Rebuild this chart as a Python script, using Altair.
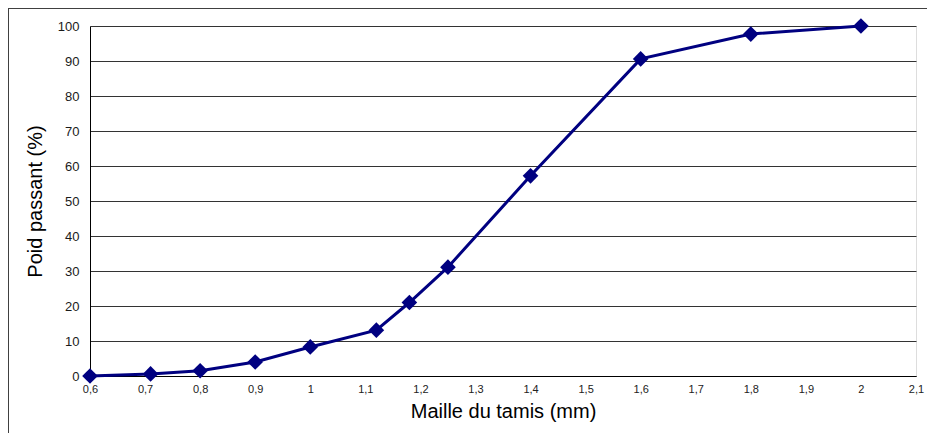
import altair as alt
import pandas as pd

maille = [0.6, 0.71, 0.8, 0.9, 1.0, 1.12, 1.18, 1.25, 1.4, 1.6, 1.8, 2.0]
passant = [0, 0.6, 1.5, 4.0, 8.3, 13.1, 21.0, 31.1, 57.2, 90.6, 97.7, 100]
x_ticks = [0.6, 0.7, 0.8, 0.9, 1.0, 1.1, 1.2, 1.3, 1.4, 1.5, 1.6, 1.7, 1.8, 1.9, 2.0, 2.1]
y_ticks = [0, 10, 20, 30, 40, 50, 60, 70, 80, 90, 100]

df = pd.DataFrame({"maille": maille, "passant": passant})
FONT = "Liberation Sans"

x_enc = alt.X("maille:Q",
              scale=alt.Scale(domain=[0.6, 2.1], nice=False, zero=False),
              axis=alt.Axis(title="Maille du tamis (mm)", values=x_ticks, tickCount=30,
                            labelExpr="replace(format(datum.value, '~g'), '.', ',')",
                            grid=False, ticks=False, domainColor="#000000",
                            labelOverlap=False, labelFlush=False,
                            labelFontSize=11, labelPadding=7, labelColor="#222222",
                            titleFontSize=20, titlePadding=7, labelFont=FONT, titleFont=FONT,
                            titleFontWeight="normal", titleColor="#000000"))
y_enc = alt.Y("passant:Q",
              scale=alt.Scale(domain=[0, 100], nice=False),
              axis=alt.Axis(title="Poid passant (%)", values=y_ticks, tickCount=20,
                            grid=True, gridColor="#333333", gridWidth=1, ticks=False,
                            domainColor="#000000",
                            labelOverlap=False, labelFlush=False,
                            labelFontSize=13, labelPadding=11, labelColor="#1a1a1a",
                            titleFontSize=20, titlePadding=12, labelFont=FONT, titleFont=FONT,
                            titleFontWeight="normal", titleColor="#000000"))

base = alt.Chart(df).encode(x=x_enc, y=y_enc)
line = base.mark_line(color="#000080", strokeWidth=3)
pts = base.mark_point(shape="diamond", filled=True, color="#000080", size=245, opacity=1)

frame_df = pd.DataFrame({"k": [1]})
left_border = alt.Chart(frame_df).mark_rule(color="#404040", strokeWidth=1).encode(
    x=alt.value(-81.5), y=alt.value(-18), y2=alt.value(440))
top_border = alt.Chart(frame_df).mark_rule(color="#404040", strokeWidth=1).encode(
    x=alt.value(-82), x2=alt.value(860), y=alt.value(-17.5))

chart = alt.layer(line, pts, left_border, top_border).properties(
    width=826, height=350,
    autosize=alt.AutoSizeParams(type="none"),
    padding={"left": 82, "top": 18, "right": 11, "bottom": 57},
).configure_view(stroke="#999999", strokeWidth=1.5).configure(background="#ffffff")

chart.save("out.html", embed_options={"renderer": "svg", "actions": False})
